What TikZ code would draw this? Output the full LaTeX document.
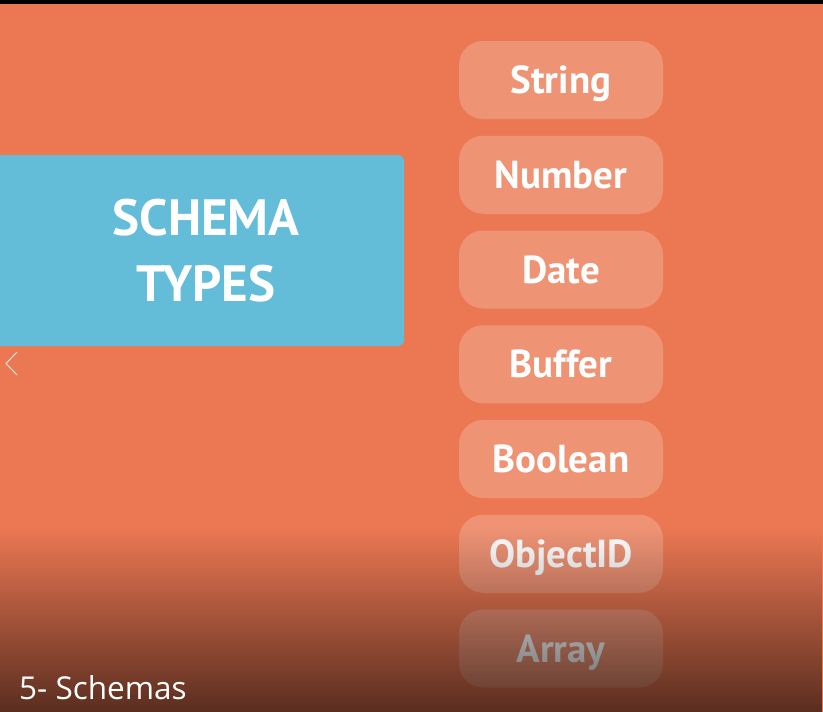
\documentclass[tikz,border=0pt]{standalone}
\usepackage{fontspec}
\setmainfont{PT Sans}
\newfontfamily\captionfont{Open Sans}
\usetikzlibrary{fadings}

\definecolor{slidebg}{RGB}{236,120,83}
\definecolor{titlebox}{RGB}{99,188,216}
\definecolor{chevron}{RGB}{232,222,216}

\tikzfading[name=darkbottom, top color=transparent!100, bottom color=transparent!0]

\tikzset{
  typepill/.style={fill=white, fill opacity=0.2, text opacity=1, text=white,
    rounded corners=24pt, minimum width=204pt, minimum height=78pt,
    inner sep=0pt, text height=27pt, text depth=0pt,
    font=\fontsize{39}{42}\selectfont\bfseries},
  titletext/.style={text=white, align=center,
    font=\fontsize{51}{66}\selectfont\bfseries},
}

\begin{document}
\begin{tikzpicture}[x=1pt,y=-1pt]
  \useasboundingbox (0,0) rectangle (823,712);
  \clip (0,0) rectangle (823,712);

  % slide background and top bar
  \fill[slidebg] (0,0) rectangle (823,712);
  \fill[black] (0,0) rectangle (823,4);

  % title panel
  \fill[titlebox, rounded corners=6pt] (-20,155) rectangle (404,346);
  \node[titletext] (title) at (206,251) {SCHEMA\\TYPES};

  % back chevron
  \coordinate (chevtop) at (17,352);
  \coordinate (chevtip) at (6,363.5);
  \coordinate (chevbot) at (17,375);
  \draw[chevron, line width=1pt] (chevtop) -- (chevtip) -- (chevbot);

  % list of types
  \node[typepill] (string)   at (561,80)     {String};
  \node[typepill] (number)   at (561,174.75) {Number};
  \node[typepill] (date)     at (561,269.5)  {Date};
  \node[typepill] (buffer)   at (561,364.25) {Buffer};
  \node[typepill] (boolean)  at (561,459)    {Boolean};
  \node[typepill] (objectid) at (561,553.75) {ObjectID};
  \node[typepill] (array)    at (561,648.5)  {Array};

  % darkening towards the bottom edge
  \fill[black, fill opacity=0.62, path fading=darkbottom, fit fading=true]
    (0,528) rectangle (823,712);

  % caption
  \node[anchor=base west, inner sep=0pt, text=white,
        font=\captionfont\fontsize{31.5}{34}\selectfont] (caption) at (19,699) {5- Schemas};
\end{tikzpicture}
\end{document}
